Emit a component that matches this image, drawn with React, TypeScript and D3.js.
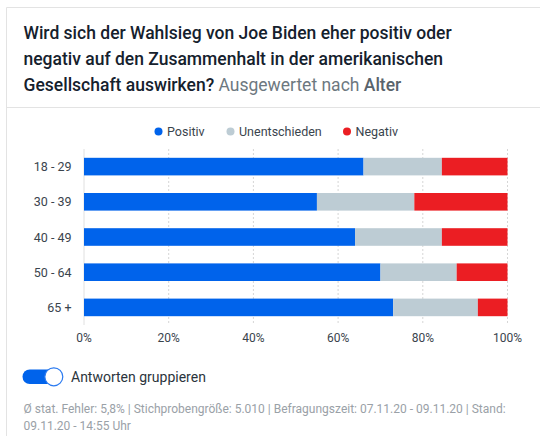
import React from "react";
import * as d3 from "d3";

const categories = ["18 - 29", "30 - 39", "40 - 49", "50 - 64", "65 +"];
const positiv = [66, 55, 64, 70, 73];
const unentschieden = [18.5, 23, 20.5, 18, 20];
const negativ = [15.5, 22, 15.5, 12, 7];
const seriesNames = ["Positiv", "Unentschieden", "Negativ"];
const seriesColors = ["#0063EB", "#BDCCD4", "#EB1E23"];
const xTicks = [0, 20, 40, 60, 80, 100];

const FONT = "Roboto, 'Noto Sans', sans-serif";

export default function App() {
  const W = 540;
  const H = 436;
  const x = d3.scaleLinear().domain([0, 100]).range([84, 507.5]);
  const y = d3.scaleBand().domain(categories).range([149, 325]).paddingInner(0.5).paddingOuter(0.25);

  const rows = categories.map((c, i) => ({
    cat: c,
    Positiv: positiv[i],
    Unentschieden: unentschieden[i],
    Negativ: negativ[i],
  }));
  const stack = d3.stack<any>().keys(seriesNames)(rows);

  const legendX = [158.5, 230.5, 347];

  return (
    <svg width={W} height={H} style={{ position: "absolute", left: 0, top: 0, fontFamily: FONT }}>
      <rect x={0} y={0} width={W} height={H} fill="#fff" />
      {/* card borders */}
      <line x1={6.5} y1={7.5} x2={W} y2={7.5} stroke="#e3e3e3" />
      <line x1={6.5} y1={7.5} x2={6.5} y2={H} stroke="#e3e3e3" />
      <line x1={6.5} y1={107.5} x2={W} y2={107.5} stroke="#e3e3e3" />

      {/* title */}
      <text x={23.5} y={38.5} fontSize={17.5} fontWeight={500} fill="#15212d">
        Wird sich der Wahlsieg von Joe Biden eher positiv oder
      </text>
      <text x={23.5} y={64.5} fontSize={17.5} fontWeight={500} fill="#15212d">
        negativ auf den Zusammenhalt in der amerikanischen
      </text>
      <text x={23.5} y={90.5} fontSize={17.5} fill="#15212d">
        <tspan fontWeight={500}>Gesellschaft auswirken?</tspan>
        <tspan fill="#6d7880" fontWeight={400}> Ausgewertet nach </tspan>
        <tspan fill="#59646c" fontWeight={500}>Alter</tspan>
      </text>

      {/* legend */}
      {seriesNames.map((s, i) => (
        <g key={s}>
          <circle cx={legendX[i]} cy={131.5} r={4} fill={seriesColors[i]} />
          <text x={legendX[i] + 8.5} y={135.5} fontSize={12.5} fill="#3a444d">
            {s}
          </text>
        </g>
      ))}

      {/* gridlines */}
      {xTicks.map((t) => (
        <line
          key={t}
          x1={x(t)}
          x2={x(t)}
          y1={149}
          y2={325}
          stroke={t === 0 ? "#e0e0e0" : "#d6d6d6"}
          strokeDasharray={t === 0 ? undefined : "2,2"}
        />
      ))}

      {/* bars */}
      {stack.map((layer, si) => (
        <g key={seriesNames[si]} fill={seriesColors[si]}>
          {layer.map((d: any, i: number) => (
            <rect
              key={i}
              x={x(d[0])}
              width={x(d[1]) - x(d[0])}
              y={y(categories[i])}
              height={y.bandwidth()}
            />
          ))}
        </g>
      ))}

      {/* y labels */}
      {categories.map((c) => (
        <text
          key={c}
          x={71.5}
          y={(y(c) as number) + y.bandwidth() / 2 + 4.5}
          textAnchor="end"
          fontSize={12.5}
          fill="#3a444d"
        >
          {c}
        </text>
      ))}

      {/* x tick labels */}
      {xTicks.map((t) => (
        <text key={t} x={x(t)} y={342} textAnchor="middle" fontSize={12} fill="#3a444d">
          {t}%
        </text>
      ))}

      {/* toggle */}
      <rect x={22.5} y={369.5} width={36} height={14.5} rx={7.25} fill="#0063EB" />
      <circle cx={53.8} cy={376.8} r={9} fill="#fff" stroke="#2a7af0" strokeWidth={1.2} />
      <text x={71} y={382} fontSize={14} fill="#2b343c">
        Antworten gruppieren
      </text>

      {/* footer */}
      <text x={23.5} y={413.3} fontSize={12} fill="#9aa1a7">
        Ø stat. Fehler: 5,8% | Stichprobengröße: 5.010 | Befragungszeit: 07.11.20 - 09.11.20 | Stand:
      </text>
      <text x={23.5} y={430} fontSize={12} fill="#9aa1a7">
        09.11.20 - 14:55 Uhr
      </text>
    </svg>
  );
}
